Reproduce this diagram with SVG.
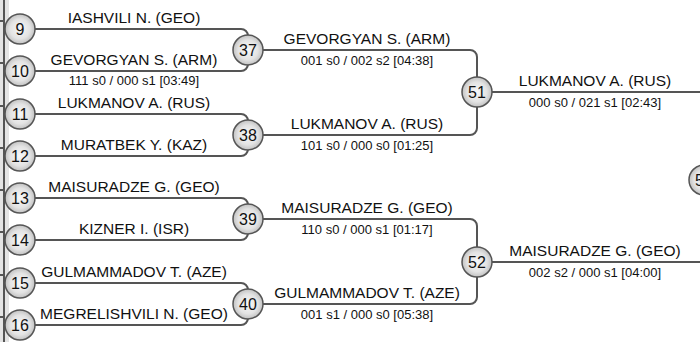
<svg xmlns="http://www.w3.org/2000/svg" width="700" height="342" viewBox="0 0 700 342">
<defs>
<radialGradient id="g" cx="50%" cy="50%" r="55%">
<stop offset="0" stop-color="#f8f8f8"/>
<stop offset="0.6" stop-color="#e3e3e3"/>
<stop offset="1" stop-color="#b8b8b8"/>
</radialGradient>
<style>
.c{fill:url(#g);stroke:#555;stroke-width:1.5}
.n{font-family:"Liberation Sans",Arial,sans-serif;font-size:16px;fill:#111;text-anchor:middle}
.nm{font-family:"Liberation Sans",Arial,sans-serif;font-size:15.5px;fill:#111;text-anchor:middle}
.sc{font-family:"Liberation Sans",Arial,sans-serif;font-size:13px;fill:#111;text-anchor:middle}
.l{fill:none;stroke:#555;stroke-width:2}
</style>
</defs>
<rect x="0" y="0" width="9" height="342" fill="#e4e4e4"/>
<g id="connectors">
<path class="l" d="M4,0 V342"/>
<path class="l" stroke-width="1.2" d="M0,21 H4 M0,63 H4 M0,106 H4 M0,148 H4 M0,190 H4 M0,232 H4 M0,275 H4 M0,317 H4"/>
<path class="l" d="M35,29 H241 A7,7 0 0 1 248,36 V50"/>
<path class="l" d="M35,71 H241 A7,7 0 0 0 248,64 V50"/>
<path class="l" d="M35,114 H241 A7,7 0 0 1 248,121 V135"/>
<path class="l" d="M35,156 H241 A7,7 0 0 0 248,149 V135"/>
<path class="l" d="M35,198 H241 A7,7 0 0 1 248,205 V219"/>
<path class="l" d="M35,240 H241 A7,7 0 0 0 248,233 V219"/>
<path class="l" d="M35,283 H241 A7,7 0 0 1 248,290 V304"/>
<path class="l" d="M35,325 H241 A7,7 0 0 0 248,318 V304"/>
<path class="l" d="M263,50 H470 A7,7 0 0 1 477,57 V92"/>
<path class="l" d="M263,135 H470 A7,7 0 0 0 477,128 V92"/>
<path class="l" d="M263,219 H470 A7,7 0 0 1 477,226 V262"/>
<path class="l" d="M263,304 H470 A7,7 0 0 0 477,297 V262"/>
<path class="l" d="M492,92 H700"/>
<path class="l" d="M492,262 H700"/>
</g>
<g id="m9"><circle class="c" cx="20" cy="29" r="15"/><text class="n" x="20" y="34.5">9</text></g>
<g id="m10"><circle class="c" cx="20" cy="71" r="15"/><text class="n" x="20" y="76.5">10</text></g>
<g id="m11"><circle class="c" cx="20" cy="114" r="15"/><text class="n" x="20" y="119.5">11</text></g>
<g id="m12"><circle class="c" cx="20" cy="156" r="15"/><text class="n" x="20" y="161.5">12</text></g>
<g id="m13"><circle class="c" cx="20" cy="198" r="15"/><text class="n" x="20" y="203.5">13</text></g>
<g id="m14"><circle class="c" cx="20" cy="240" r="15"/><text class="n" x="20" y="245.5">14</text></g>
<g id="m15"><circle class="c" cx="20" cy="283" r="15"/><text class="n" x="20" y="288.5">15</text></g>
<g id="m16"><circle class="c" cx="20" cy="325" r="15"/><text class="n" x="20" y="330.5">16</text></g>
<g id="m37"><circle class="c" cx="248" cy="50" r="15"/><text class="n" x="248" y="55.5">37</text></g>
<g id="m38"><circle class="c" cx="248" cy="135" r="15"/><text class="n" x="248" y="140.5">38</text></g>
<g id="m39"><circle class="c" cx="248" cy="219" r="15"/><text class="n" x="248" y="224.5">39</text></g>
<g id="m40"><circle class="c" cx="248" cy="304" r="15"/><text class="n" x="248" y="309.5">40</text></g>
<g id="m51"><circle class="c" cx="477" cy="92" r="15"/><text class="n" x="477" y="97.5">51</text></g>
<g id="m52"><circle class="c" cx="477" cy="262" r="15"/><text class="n" x="477" y="267.5">52</text></g>
<g id="m5x"><circle class="c" cx="704" cy="180" r="15"/><text class="n" x="695" y="185.5" style="text-anchor:start">5</text></g>
<g id="labels">
<text class="nm" x="134" y="23">IASHVILI N. (GEO)</text>
<text class="nm" x="134" y="65">GEVORGYAN S. (ARM)</text>
<text class="sc" x="134" y="85">111 s0 / 000 s1 [03:49]</text>
<text class="nm" x="134" y="108">LUKMANOV A. (RUS)</text>
<text class="nm" x="134" y="150">MURATBEK Y. (KAZ)</text>
<text class="nm" x="134" y="192">MAISURADZE G. (GEO)</text>
<text class="nm" x="134" y="234">KIZNER I. (ISR)</text>
<text class="nm" x="134" y="277">GULMAMMADOV T. (AZE)</text>
<text class="nm" x="134" y="319">MEGRELISHVILI N. (GEO)</text>
<text class="nm" x="367" y="44">GEVORGYAN S. (ARM)</text>
<text class="sc" x="367" y="65">001 s0 / 002 s2 [04:38]</text>
<text class="nm" x="367" y="129">LUKMANOV A. (RUS)</text>
<text class="sc" x="367" y="150">101 s0 / 000 s0 [01:25]</text>
<text class="nm" x="367" y="213">MAISURADZE G. (GEO)</text>
<text class="sc" x="367" y="234">110 s0 / 000 s1 [01:17]</text>
<text class="nm" x="367" y="298">GULMAMMADOV T. (AZE)</text>
<text class="sc" x="367" y="319">001 s1 / 000 s0 [05:38]</text>
<text class="nm" x="595" y="86">LUKMANOV A. (RUS)</text>
<text class="sc" x="595" y="107">000 s0 / 021 s1 [02:43]</text>
<text class="nm" x="595" y="256">MAISURADZE G. (GEO)</text>
<text class="sc" x="595" y="277">002 s2 / 000 s1 [04:00]</text>
</g>
</svg>
